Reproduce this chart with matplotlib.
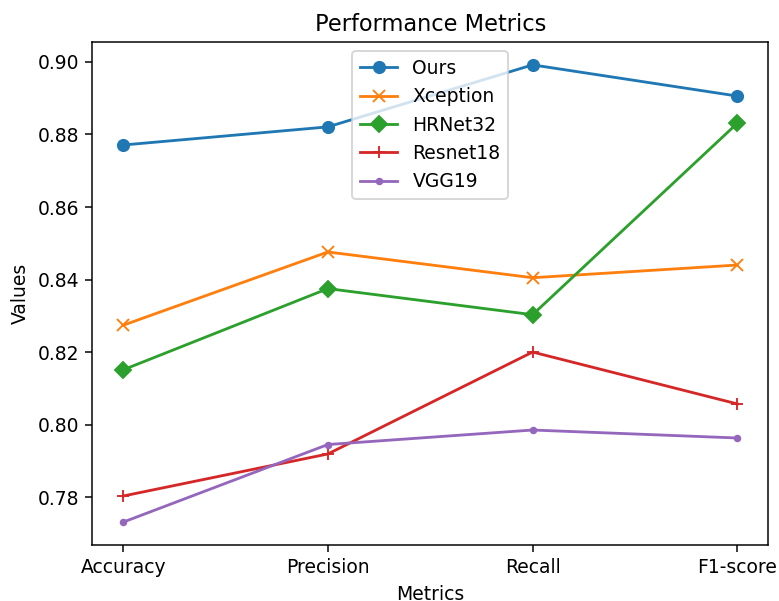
import matplotlib
matplotlib.use("Agg")
import matplotlib.pyplot as plt

metrics = ["Accuracy", "Precision", "Recall", "F1-score"]
ours = [0.8771, 0.8821, 0.8992, 0.8906]
xception = [0.8274, 0.8476, 0.8405, 0.8440]
hrnet32 = [0.8151, 0.8375, 0.8303, 0.8831]
resnet18 = [0.7803, 0.7919, 0.8200, 0.8057]
vgg19 = [0.7731, 0.7945, 0.7985, 0.7963]

dpi = 135
fig = plt.figure(figsize=(779 / dpi, 601 / dpi), dpi=dpi)
ax = fig.add_axes([0.1187, 0.0932, 0.8672, 0.8369])

ax.plot(metrics, ours, marker='o', label='Ours')
ax.plot(metrics, xception, marker='x', label='Xception')
ax.plot(metrics, hrnet32, marker='D', label='HRNet32')
ax.plot(metrics, resnet18, marker='+', label='Resnet18')
ax.plot(metrics, vgg19, marker='.', label='VGG19')

ax.set_title('Performance Metrics')
ax.set_xlabel('Metrics')
ax.set_ylabel('Values')
ax.legend(loc='upper center')

fig.savefig('out.png', dpi=dpi)
